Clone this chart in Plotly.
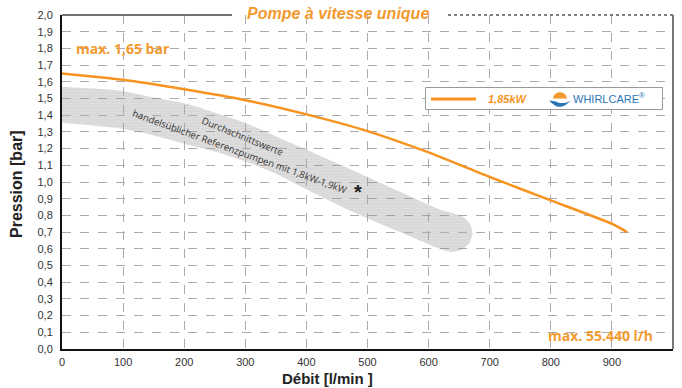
import plotly.graph_objects as go

# Pump curve: flow rate (l/min) vs. pressure (bar)
flow = [0, 100, 200, 300, 400, 500, 600, 700, 800, 900, 925]
pressure = [1.65, 1.612, 1.555, 1.49, 1.405, 1.305, 1.177, 1.03, 0.89, 0.75, 0.70]

# Band of average reference pumps (1.8-1.9 kW): upper edge, rounded end, lower edge
band_upper_x = [0, 97, 144, 201, 253, 302, 351, 389, 471, 553, 618]
band_upper_y = [1.571, 1.547, 1.511, 1.471, 1.411, 1.351, 1.271, 1.211, 1.078, 0.942, 0.836]
band_end_x = [654, 667, 672, 667, 654, 636]
band_end_y = [0.797, 0.754, 0.695, 0.635, 0.593, 0.581]
band_lower_x = [618, 553, 471, 389, 351, 302, 253, 201, 144, 97, 0]
band_lower_y = [0.60, 0.70, 0.83, 0.976, 1.048, 1.12, 1.18, 1.228, 1.284, 1.32, 1.355]

x_ticks = list(range(0, 1001, 100))
y_ticks = [round(i * 0.1, 1) for i in range(21)]

ORANGE = "#F7931E"
TEXT_ORANGE = "#F39A2E"
BLUE = "#2A74B8"

# plot area in pixels
L, R, T, B = 62, 673, 15, 349
W, H = 682, 388


def px(p):
    return (p - L) / (R - L)


def py(p):
    return (B - p) / (B - T)


fig = go.Figure()

fig.add_trace(go.Scatter(
    x=band_upper_x + band_end_x + band_lower_x,
    y=band_upper_y + band_end_y + band_lower_y,
    mode="lines",
    line=dict(width=0, shape="spline", smoothing=0.6),
    fill="toself",
    fillcolor="rgba(150,150,150,0.36)",
    fillpattern=dict(shape="-", fgcolor="rgba(255,255,255,0.25)",
                     bgcolor="rgba(150,150,150,0.36)", size=3, solidity=0.35),
    hoverinfo="skip",
    showlegend=False,
))

fig.add_trace(go.Scatter(
    x=flow, y=pressure,
    mode="lines",
    line=dict(color=ORANGE, width=2.5, shape="spline", smoothing=0.5),
    name="1,85kW",
    showlegend=False,
))

grid = dict(showgrid=True, gridcolor="#ababab", gridwidth=1, griddash="dash",
            zeroline=False)

fig.update_xaxes(
    range=[0, 1000], tickvals=x_ticks, tickformat="d",
    showline=True, linecolor="#111", linewidth=2,
    ticks="", ticklabelstandoff=2,
    tickfont=dict(family="Liberation Sans", size=11, color="#333"),
    **grid,
)
fig.update_yaxes(
    range=[0, 2.0], tickvals=y_ticks, tickformat=".1f",
    showline=True, linecolor="#111", linewidth=2,
    ticks="", ticklabelstandoff=5,
    tickfont=dict(family="Liberation Sans", size=11, color="#333"),
    **grid,
)

shapes = [
    # top frame, interrupted by the title
    dict(type="line", xref="paper", yref="paper", x0=0, x1=px(232), y0=1, y1=1,
         line=dict(color="#444", width=1.5)),
    dict(type="line", xref="paper", yref="paper", x0=px(448), x1=1, y0=1, y1=1,
         line=dict(color="#555", width=1.5, dash="dot")),
    # right frame
    dict(type="line", xref="paper", yref="paper", x0=1, x1=1, y0=0, y1=1,
         line=dict(color="#777", width=2)),
    # key box
    dict(type="rect", xref="paper", yref="paper",
         x0=px(425.5), x1=px(662.5), y0=py(109.5), y1=py(87.5),
         line=dict(color="#9a9a9a", width=1), fillcolor="white"),
    dict(type="line", xref="paper", yref="paper",
         x0=px(431), x1=px(476), y0=py(99), y1=py(99),
         line=dict(color=ORANGE, width=3)),
    # brand mark: orange sun over a blue wave
    dict(type="path", xref="paper", yref="paper",
         path=("M {},{} L {},{} C {},{} {},{} {},{} L {},{} Z").format(
             px(549), py(98.5), px(553), py(98.5),
             px(554), py(90), px(566), py(90), px(567), py(98.5),
             px(571), py(98.5)),
         line=dict(width=0), fillcolor="#F29A2E"),
    dict(type="path", xref="paper", yref="paper",
         path=("M {},{} C {},{} {},{} {},{} C {},{} {},{} {},{} "
               "C {},{} {},{} {},{} Z").format(
             px(549), py(100.5),
             px(553), py(104), px(556), py(108), px(562), py(106.5),
             px(566), py(105.5), px(568), py(103), px(571), py(100.5),
             px(566), py(103.5), px(560), py(104), px(556), py(101.5)),
         line=dict(width=0), fillcolor=BLUE),
]

C = dict(xanchor="center", yanchor="middle", showarrow=False)

annotations = [
    dict(text="<b><i>Pompe à vitesse unique</i></b>", xref="paper", yref="paper",
         x=px(338), y=py(13), **C,
         font=dict(family="Liberation Sans", size=16, color=TEXT_ORANGE)),
    dict(text="<b>max. 1,65 bar</b>", x=19, y=1.80, xanchor="left", yanchor="middle",
         showarrow=False,
         font=dict(family="Open Sans", size=14, color=TEXT_ORANGE)),
    dict(text="<b>max. 55.440 l/h</b>", x=970, y=0.08, xanchor="right", yanchor="middle",
         showarrow=False,
         font=dict(family="Open Sans", size=14, color=TEXT_ORANGE)),
    dict(text="Durchschnittswerte", x=296, y=1.27, textangle=22, **C,
         font=dict(family="Open Sans", size=9.5, color="#333")),
    dict(text="handelsüblicher Referenzpumpen mit 1,8kW-1,9kW", x=290, y=1.18,
         textangle=20, **C,
         font=dict(family="Open Sans", size=9.5, color="#333")),
    dict(text="<b>*</b>", x=485, y=0.94, **C,
         font=dict(family="Liberation Sans", size=20, color="#222")),
    dict(text="<b><i>1,85kW</i></b>", xref="paper", yref="paper",
         x=px(486), y=py(99), xanchor="left", yanchor="middle", showarrow=False,
         font=dict(family="Liberation Sans", size=11, color=ORANGE)),
    dict(text="WHIRLCARE<sup>®</sup>", xref="paper", yref="paper",
         x=px(571), y=py(98), xanchor="left", yanchor="middle", showarrow=False,
         font=dict(family="Liberation Sans", size=11, color=BLUE)),
    dict(text="<b>Pression [bar]</b>", xref="paper", yref="paper",
         x=px(17), y=py(184), textangle=-90, **C,
         font=dict(family="Liberation Sans", size=16, color="#222")),
    dict(text="<b>Débit [l/min ]</b>", xref="paper", yref="paper",
         x=px(327), y=py(378), **C,
         font=dict(family="Liberation Sans", size=15, color="#222")),
]

fig.update_layout(
    width=W, height=H,
    margin=dict(l=L, r=W - R, t=T, b=H - B),
    paper_bgcolor="white", plot_bgcolor="white",
    separators=",.",
    shapes=shapes,
    annotations=annotations,
    showlegend=False,
)

fig.write_html("out.html")
